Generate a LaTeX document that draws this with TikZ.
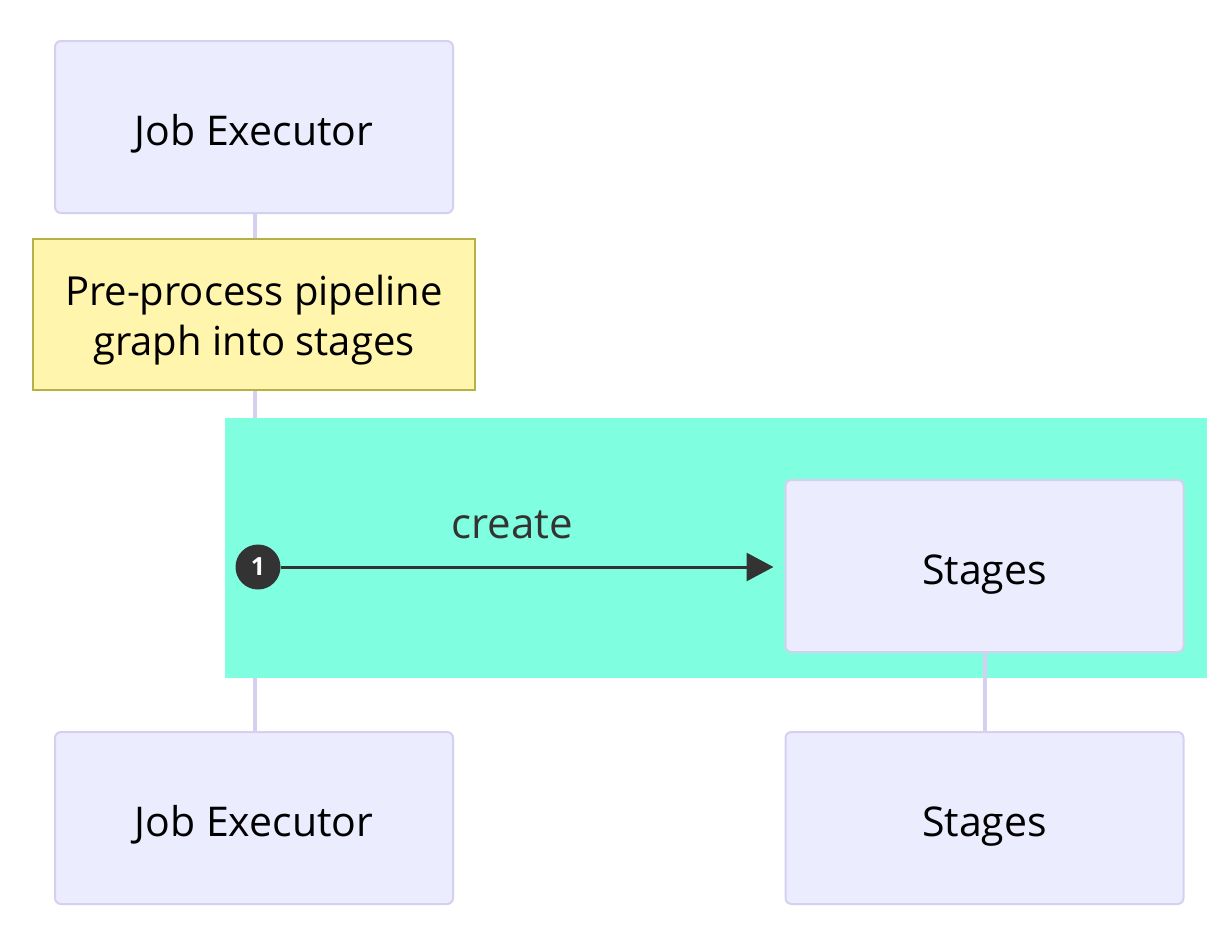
\documentclass[tikz,border=0pt]{standalone}
\usepackage{fontspec}
\setmainfont{Open Sans}
\usetikzlibrary{arrows.meta}
\definecolor{actorfill}{HTML}{ECECFF}
\definecolor{actorline}{HTML}{D6D0F0}
\definecolor{notefill}{HTML}{FFF5AD}
\definecolor{noteline}{HTML}{B5B048}
\definecolor{rectfill}{HTML}{80FFE0}
\definecolor{msgline}{HTML}{333333}
\tikzset{
  actor/.style={draw=actorline, line width=2pt, fill=actorfill, rounded corners=6pt,
    minimum width=398pt, minimum height=172pt, inner sep=0pt,
    text height=36pt, text depth=0pt,
    font=\fontsize{41}{44}\selectfont, text=black},
  note/.style={draw=noteline, line width=2pt, fill=notefill,
    minimum width=442pt, minimum height=151pt, inner sep=0pt, align=center,
    text height=81pt, text depth=0pt,
    font=\fontsize{40}{50}\selectfont, text=black},
  lifeline/.style={draw=actorline, line width=4pt},
  message/.style={draw=msgline, line width=3pt, -{Triangle[length=27pt,width=28pt]}},
  seqnum/.style={circle, fill=msgline, minimum size=45pt, inner sep=0pt,
    text=white, font=\fontsize{25}{25}\selectfont\bfseries},
}
\begin{document}
\begin{tikzpicture}[x=1pt,y=-1pt]
  \useasboundingbox (0,0) rectangle (1226,927);
  \fill[white] (0,0) rectangle (1226,927);

  % lifelines
  \coordinate (jtop) at (255,213);
  \coordinate (jbot) at (255,731);
  \draw[lifeline] (jtop) -- (jbot);

  % highlighted region
  \fill[rectfill] (225,418) rectangle (1207,678);

  % actors
  \node[actor] (jobA) at (254,127) {Job Executor};
  \node[actor] (jobB) at (254,818) {Job Executor};
  \node[actor] (stA) at (984.5,566) {Stages};
  \node[actor] (stB) at (984.5,818) {Stages};
  \draw[lifeline] (stA.south) -- (stB.north);

  % note
  \node[note] (prep) at (254,314.5) {Pre-process pipeline\\graph into stages};

  % message
  \node[seqnum] (n1) at (258,567) {1};
  \draw[message, shorten >=11pt] (n1.east) -- (stA.west |- n1.east);
  \node[text=msgline, font=\fontsize{42}{42}\selectfont, anchor=base] (lbl) at (512,538) {create};
\end{tikzpicture}
\end{document}
